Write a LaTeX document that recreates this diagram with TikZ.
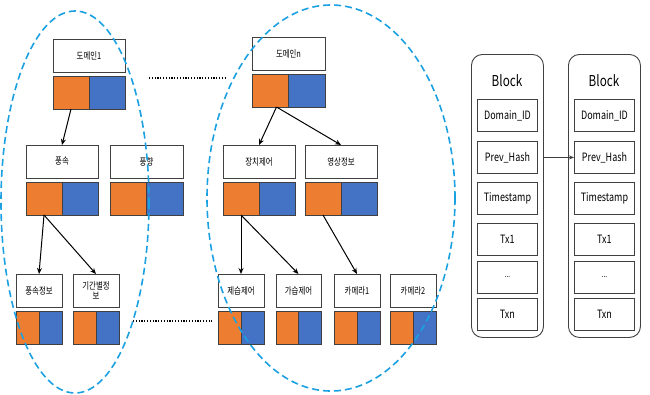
\documentclass[tikz,border=0pt]{standalone}
\usepackage{fontspec}
\newfontfamily\kr[FakeStretch=0.78]{Noto Sans CJK KR}
\usetikzlibrary{arrows.meta}
\definecolor{korange}{HTML}{ED7D31}
\definecolor{kblue}{HTML}{4472C4}
\definecolor{kcyan}{HTML}{1BA1E2}
\definecolor{kedge}{HTML}{404040}
\tikzset{
  lbox/.style={draw=kedge, line width=0.9pt, fill=white, inner sep=0pt, outer sep=0pt, minimum height=33pt, anchor=north west, align=center, font=\kr\fontsize{9.5}{10.5}\selectfont},
  obox/.style={draw=kedge, line width=0.9pt, fill=korange, inner sep=0pt, outer sep=0pt, minimum height=33pt, anchor=north west},
  bbox/.style={draw=kedge, line width=0.9pt, fill=kblue, inner sep=0pt, outer sep=0pt, minimum height=33pt, anchor=north west},
  tarrow/.style={-{Stealth[length=6pt,width=5pt]}, line width=1pt, black},
  domring/.style={draw=kcyan, line width=1.6pt, dash pattern=on 7pt off 4pt},
  dotline/.style={line width=1.6pt, dash pattern=on 1.2pt off 1.6pt, black},
  blockframe/.style={draw=kedge, line width=0.9pt, rounded corners=11pt, inner sep=0pt, minimum width=72pt, minimum height=283pt, anchor=north west},
  field/.style={draw=kedge, line width=0.9pt, inner sep=0pt, minimum width=60pt, minimum height=32pt, anchor=north west, font=\kr\fontsize{11.5}{13}\selectfont},
  blocktitle/.style={inner sep=0pt, font=\kr\fontsize{15}{17}\selectfont}
}
\newcommand{\dunit}[5]{%
  \node[lbox, minimum width=#4pt] (#1) at (#2,#3) {#5};
  \node[obox, minimum width=#4/2*1pt] (#1-o) at (#2,#3+37) {};
  \node[bbox, minimum width=#4/2*1pt] (#1-b) at ({#2+#4/2},#3+37) {};
}
\newcommand{\blockcol}[2]{%
  \node[blockframe] (#1) at (#2,54) {};
  \node[blocktitle] (#1-t) at ({#2+36},81) {Block};
  \node[field] (#1-d) at ({#2+6},99) {Domain\_ID};
  \node[field] (#1-p) at ({#2+6},141) {Prev\_Hash};
  \node[field] (#1-s) at ({#2+6},182) {Timestamp};
  \node[field] (#1-x1) at ({#2+6},223) {Tx1};
  \node[field] (#1-e) at ({#2+6},261) {\fontsize{8}{9}\selectfont ...};
  \node[field] (#1-xn) at ({#2+6},298) {Txn};
}
\begin{document}
\begin{tikzpicture}[x=1pt,y=-1pt]
\useasboundingbox[fill=white] (0,0) rectangle (650,394);
% left tree
\dunit{d1}{53}{39}{72}{도메인1}
\dunit{ws}{26}{145}{72}{풍속}
\dunit{wd}{110}{145}{73}{풍향}
\dunit{wsi}{16}{274}{46}{풍속정보}
\dunit{pi}{73}{274}{46}{기간별정\\보}
% right tree
\dunit{dn}{252}{37}{73}{도메인n}
\dunit{dc}{223}{145}{72}{장치제어}
\dunit{vi}{305}{145}{72}{영상정보}
\dunit{dh}{218}{274}{46}{제습제어}
\dunit{hu}{276}{274}{45}{가습제어}
\dunit{c1}{334}{274}{46}{카메라1}
\dunit{c2}{390}{274}{46}{카메라2}
% tree arrows
\draw[tarrow] (d1-o.south) -- (ws.north);
\draw[tarrow] (ws-o.south) -- (wsi.north);
\draw[tarrow] (ws-o.south) -- (pi.north);
\draw[tarrow] (dn-o.south east) ++(-12,0) coordinate (dnst) -- (dc.north);
\draw[tarrow] (dnst) -- (vi.north);
\draw[tarrow] (dc-o.south) -- (dh.north);
\draw[tarrow] (dc-o.south) -- (hu.north);
\draw[tarrow] (vi-o.south) -- (c1.north);
% dotted links
\coordinate (dt1) at (149,78);
\coordinate (dt2) at (227,78);
\coordinate (db1) at (133,321);
\coordinate (db2) at (212,321);
\draw[dotline] (dt1) -- (dt2);
\draw[dotline] (db1) -- (db2);
% domain rings
\draw[domring] (75,202) ellipse [x radius=74, y radius=191];
\draw[domring] (331,198) ellipse [x radius=124, y radius=193];
% blocks
\blockcol{bl}{471}
\blockcol{br}{568}
\draw[-{Stealth[length=5pt,width=4pt]}, line width=0.9pt, kedge] (bl.east |- bl-p.east) -- (br-p.west);
\end{tikzpicture}
\end{document}
